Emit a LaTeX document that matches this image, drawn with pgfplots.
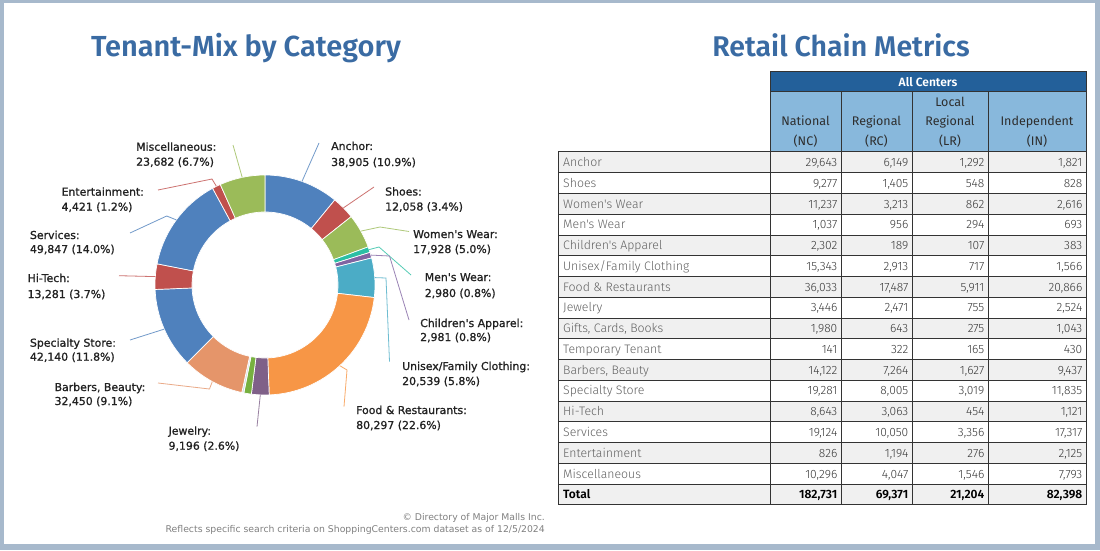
\documentclass[border=0pt]{standalone}
\usepackage{fontspec}
\usepackage{pgfplots}
\pgfplotsset{compat=1.18}
\usepackage{pgfplotstable}
\setmainfont{Fira Sans}
\newfontfamily\firalight{Fira Sans Light}
\newfontfamily\firasemi{Fira Sans SemiBold}
\newfontfamily\dejavu{DejaVu Sans}
\newfontfamily\dejavulab{DejaVu Sans}[FakeBold=1.0]

\definecolor{framecol}{HTML}{A7B9CC}
\definecolor{titleblue}{HTML}{3A6BA3}
\definecolor{hdrdark}{HTML}{23609A}
\definecolor{hdrlight}{HTML}{88B8DC}
\definecolor{rowgray}{HTML}{F0F0F0}
\definecolor{gridcol}{HTML}{333333}
\definecolor{labtext}{HTML}{222222}
\definecolor{cBlue}{HTML}{4F81BD}
\definecolor{cRed}{HTML}{C0504D}
\definecolor{cGreen}{HTML}{9BBB59}
\definecolor{cTeal}{HTML}{2BBFA4}
\definecolor{cPurple}{HTML}{8064A2}
\definecolor{cAqua}{HTML}{4BACC6}
\definecolor{cOrange}{HTML}{F79646}
\definecolor{cPlum}{HTML}{7F6088}
\definecolor{cLime}{HTML}{77B040}
\definecolor{cPale}{HTML}{D5DEE8}
\definecolor{cSalmon}{HTML}{E5956A}

% Tenant mix (sum of the four centre types)
\pgfplotstableread[col sep=comma]{
cat,val,col
Anchor,38905,cBlue
Shoes,12058,cRed
WomensWear,17928,cGreen
MensWear,2980,cTeal
ChildrensApparel,2981,cPurple
Unisex,20539,cAqua
Food,80297,cOrange
Jewelry,9196,cPlum
Gifts,3941,cLime
Temporary,1058,cPale
Barbers,32450,cSalmon
Specialty,42140,cBlue
HiTech,13281,cRed
Services,49847,cBlue
Entertainment,4421,cRed
Misc,23682,cGreen
}\donutdata

% Retail chain metrics
\pgfplotstableread[col sep=comma]{
nc,rc,lr,in
29643,6149,1292,1821
9277,1405,548,828
11237,3213,862,2616
1037,956,294,693
2302,189,107,383
15343,2913,717,1566
36033,17487,5911,20866
3446,2471,755,2524
1980,643,275,1043
141,322,165,430
14122,7264,1627,9437
19281,8005,3019,11835
8643,3063,454,1121
19124,10050,3356,17317
826,1194,276,2125
10296,4047,1546,7793
182731,69371,21204,82398
}\chaintable

\pgfkeys{/pgf/number format/.cd, fixed, precision=0, 1000 sep={,}, assume math mode=true}

\newcommand\labfont{\dejavulab\fontsize{10.9}{12}\selectfont}
\newcommand\dlab[5]{%
  \node[anchor=base west, inner sep=0pt, text=labtext, font=\labfont] at (#1,#2+4) {#3};
  \node[anchor=base west, inner sep=0pt, text=labtext, font=\labfont] at (#1,#2+4+#5) {#4};}

\begin{document}
\begin{tikzpicture}
\fill[framecol] (0pt,0pt) rectangle (1100pt,550pt);
\fill[white] (4pt,6pt) rectangle (1095pt,547pt);

\begin{axis}[at={(145pt,145pt)}, anchor=south west, scale only axis,
  width=240pt, height=240pt, xmin=-120, xmax=120, ymin=-120, ymax=120,
  hide axis, clip=false]
\addplot[draw=none] coordinates {(0,0)};
\pgfplotsextra{
  \gdef\dtotal{0}
  \foreach \i in {0,...,15}{
    \pgfplotstablegetelem{\i}{val}\of\donutdata
    \xdef\dtotal{\fpeval{\dtotal+\pgfplotsretval}}
  }
  \gdef\dcum{0}
  \foreach \i in {0,...,15}{
    \pgfplotstablegetelem{\i}{val}\of\donutdata\edef\slv{\pgfplotsretval}
    \pgfplotstablegetelem{\i}{col}\of\donutdata\edef\slcol{\pgfplotsretval}
    \edef\aone{\fpeval{round(90-\dcum*360/\dtotal,4)}}
    \xdef\dcum{\fpeval{\dcum+\slv}}
    \edef\atwo{\fpeval{round(90-\dcum*360/\dtotal,4)}}
    \fill[fill=\slcol, draw=white, line width=0.7pt, shift={(axis cs:0,0)}]
      (\aone:73pt) -- (\aone:110pt) arc[start angle=\aone, end angle=\atwo, radius=110pt]
      -- (\atwo:73pt) arc[start angle=\atwo, end angle=\aone, radius=73pt] -- cycle;
  }
}
\end{axis}

\begin{scope}[x=1pt, y=-1pt, shift={(0pt,550pt)}]
% titles
\node[anchor=base, inner sep=0pt, text=titleblue, font=\firasemi\fontsize{29}{33}\selectfont] at (246,57) {Tenant-Mix by Category};
\node[anchor=base, inner sep=0pt, text=titleblue, font=\firasemi\fontsize{28.5}{33}\selectfont] at (841,57) {Retail Chain Metrics};

% leader lines
\begin{scope}[line width=0.8pt]
\draw[cBlue!80] (302,181.4) -- (319,143);
\draw[cRed!80] (343.4,207.9) -- (374,187);
\draw[cGreen!80] (360.9,231.1) -- (380,227) -- (409,231.5);
\draw[cTeal!80] (369.1,249.6) -- (379,247) -- (411,275);
\draw[cPurple!80] (370.9,255.1) -- (389.5,256) -- (409,320);
\draw[cAqua!80] (374.75,277.6) -- (386,278) -- (389.5,361.7);
\draw[cOrange!80] (339.8,365.7) -- (347,370) -- (344,406.7);
\draw[cPlum!80] (260.3,394.9) -- (257,426.7);
\draw[cSalmon!80] (212.3,381.6) -- (209.5,389) -- (158,383);
\draw[cBlue!80] (164.3,329.1) -- (130,340);
\draw[cRed!80] (155.3,276.6) -- (119,275.7);
\draw[cBlue!80] (176.4,219.9) -- (166.7,216) -- (130,233);
\draw[cRed!80] (216.4,186.3) -- (212,179) -- (158,190);
\draw[cGreen!80] (242.2,177.4) -- (233,145);
\end{scope}

% labels
\dlab{331}{146}{Anchor:}{38,905 (10.9\%)}{16}
\dlab{385}{191.5}{Shoes:}{12,058 (3.4\%)}{15}
\dlab{413}{234}{Women's Wear:}{17,928 (5.0\%)}{15}
\dlab{424.6}{277}{Men's Wear:}{2,980 (0.8\%)}{16}
\dlab{420}{323}{Children's Apparel:}{2,981 (0.8\%)}{14}
\dlab{402}{366}{Unisex/Family Clothing:}{20,539 (5.8\%)}{15}
\dlab{356}{410}{Food \& Restaurants:}{80,297 (22.6\%)}{15}
\dlab{168.4}{430.7}{Jewelry:}{9,196 (2.6\%)}{15}
\dlab{54.4}{387}{Barbers, Beauty:}{32,450 (9.1\%)}{14}
\dlab{29.8}{342.7}{Specialty Store:}{42,140 (11.8\%)}{14}
\dlab{27.4}{278}{Hi-Tech:}{13,281 (3.7\%)}{16}
\dlab{29.8}{235}{Services:}{49,847 (14.0\%)}{14}
\dlab{61.4}{191.7}{Entertainment:}{4,421 (1.2\%)}{15}
\dlab{136}{146.7}{Miscellaneous:}{23,682 (6.7\%)}{15}

% footer
\node[anchor=base east, inner sep=0pt, text=black!50, font=\dejavu\fontsize{9.3}{10}\selectfont] at (545,520) {© Directory of Major Malls Inc.};
\node[anchor=base east, inner sep=0pt, text=black!50, font=\dejavu\fontsize{9.3}{10}\selectfont] at (545,532) {Reflects specific search criteria on ShoppingCenters.com dataset as of 12/5/2024};

% table header
\fill[hdrdark] (770,72) rectangle (1086,92);
\fill[hdrlight] (770,92) rectangle (1086,152);
\node[anchor=base, inner sep=0pt, text=white, font=\firasemi\fontsize{12}{14}\selectfont] at (928,86.3) {All Centers};
\begin{scope}[every node/.style={anchor=base, inner sep=0pt, text=black!82, font=\fontsize{12.5}{14}\selectfont}]
\node at (805.5,126) {National}; \node at (805.5,145.3) {(NC)};
\node at (876.5,126) {Regional}; \node at (876.5,145.3) {(RC)};
\node at (950,107) {Local}; \node at (950,126) {Regional}; \node at (950,145.3) {(LR)};
\node at (1037,126) {Independent}; \node at (1037,145.3) {(IN)};
\end{scope}

% table body
\foreach \nm [count=\k from 0] in {Anchor,Shoes,Women's Wear,Men's Wear,Children's Apparel,Unisex/Family Clothing,Food \& Restaurants,Jewelry,{Gifts, Cards, Books},Temporary Tenant,{Barbers, Beauty},Specialty Store,Hi-Tech,Services,Entertainment,Miscellaneous,Total}{
  \pgfmathsetmacro\ytop{152+20.76*\k}
  \ifodd\k\relax\else\fill[rowgray] (558,\ytop) rectangle (1086,\ytop+20.76);\fi
  \ifnum\k=16
    \node[anchor=base west, inner sep=0pt, text=black, font=\firasemi\fontsize{12}{14}\selectfont] at (563,\ytop+14.6) {\nm};
  \else
    \node[anchor=base west, inner sep=0pt, text=black!62, font=\firalight\fontsize{12.3}{14}\selectfont] at (563,\ytop+14.6) {\nm};
  \fi
  \foreach \col/\xr in {nc/837.5,rc/908.5,lr/984.5,in/1082.5}{
    \pgfplotstablegetelem{\k}{\col}\of\chaintable
    \ifnum\k=16
      \node[anchor=base east, inner sep=0pt, text=black, font=\firasemi\fontsize{12}{14}\selectfont] at (\xr,\ytop+14.6) {\pgfmathprintnumber{\pgfplotsretval}};
    \else
      \node[anchor=base east, inner sep=0pt, text=black!78, font=\firalight\fontsize{12}{14}\selectfont] at (\xr,\ytop+14.6) {\pgfmathprintnumber{\pgfplotsretval}};
    \fi
  }
}
% grid
\begin{scope}[draw=gridcol, line width=1pt]
\draw (770,72) rectangle (1086,152);
\draw (770,92) -- (1086,92);
\foreach \xx in {841,912,988} \draw (\xx,92) -- (\xx,152);
\foreach \k in {0,...,17} \draw (558,152+20.76*\k) -- (1086,152+20.76*\k);
\foreach \xx in {558,770,841,912,988,1086} \draw (\xx,152) -- (\xx,505);
\end{scope}
\end{scope}

\pgfresetboundingbox
\path (0pt,0pt) rectangle (1100pt,550pt);
\end{tikzpicture}
\end{document}
